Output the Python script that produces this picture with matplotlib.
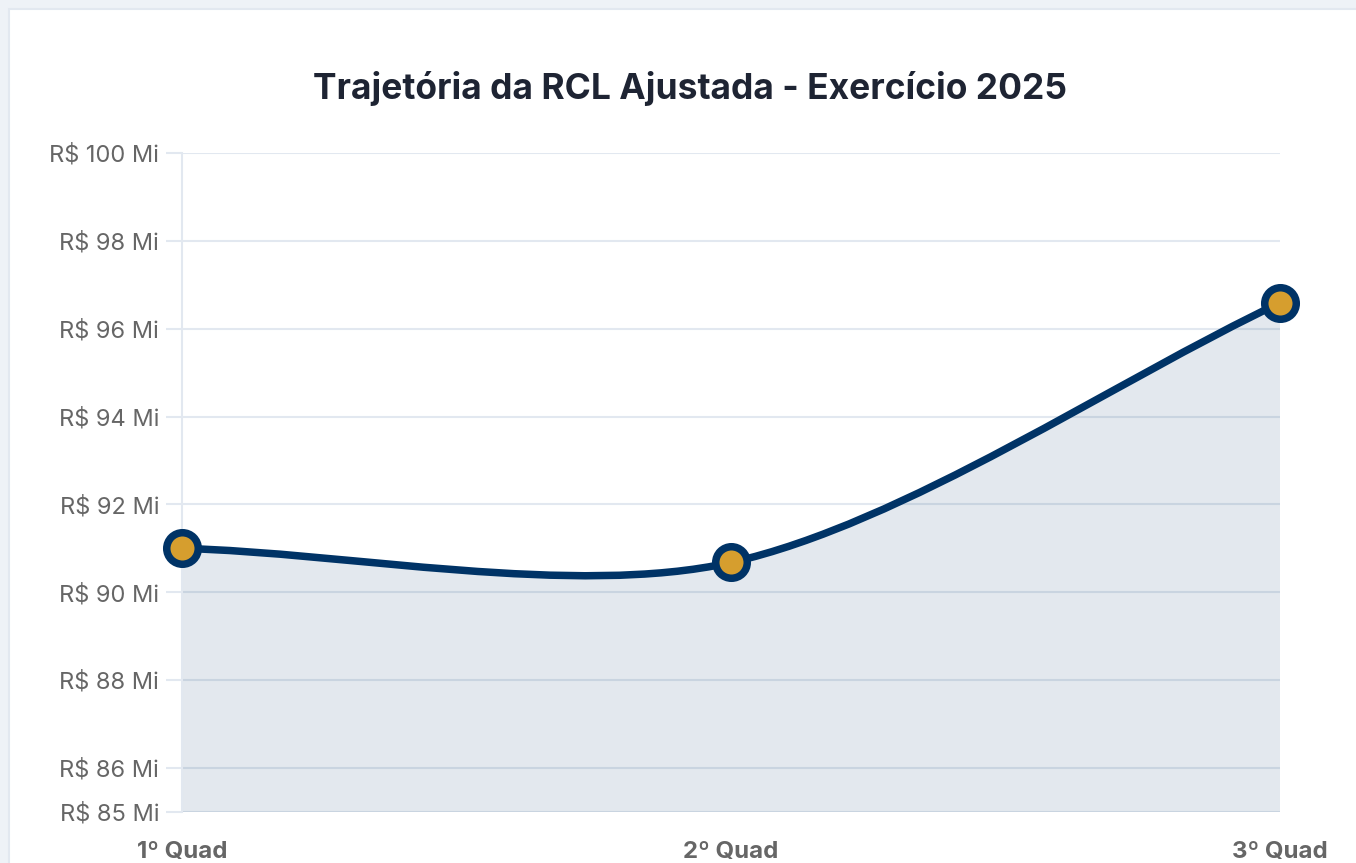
import numpy as np
import matplotlib
matplotlib.use("Agg")
import matplotlib.pyplot as plt
from matplotlib.path import Path
from matplotlib.patches import PathPatch, Rectangle
from matplotlib.transforms import Bbox, TransformedBbox

plt.rcParams['font.family'] = ['Inter', 'DejaVu Sans']

# dados
quadrimestres = ['1º Quad', '2º Quad', '3º Quad']
rcl_mi = [91.0, 90.68, 96.59]
y_ticks = [85, 86, 88, 90, 92, 94, 96, 98, 100]
y_min, y_max = 85, 100

NAVY = '#003366'
GOLD = '#D69E2E'
GRID = '#E2E8F0'

W, H = 1356, 863
fig = plt.figure(figsize=(W / 100, H / 100), dpi=100, facecolor='#EEF2F7')
# cartão branco
fig.patches.append(Rectangle((9 / W, -0.1), 2, (H - 9) / H + 0.1, transform=fig.transFigure,
                             facecolor='white', edgecolor=GRID, lw=1.5, zorder=-10))

ax_pos = [182 / W, 51 / H, (1280 - 182) / W, (812 - 153) / H]
ax = fig.add_axes(ax_pos)
ax.set_facecolor('none')

x = np.arange(len(rcl_mi), dtype=float)
ax.set_xlim(0, len(x) - 1)
ax.set_ylim(y_min, y_max)

# curva suavizada (estilo Chart.js), calculada em pixels
sx = (1280 - 182) / (len(x) - 1)
sy = (812 - 153) / (y_max - y_min)
pts = np.column_stack([x * sx, np.array(rcl_mi) * sy])
n = len(pts)
cp_prev, cp_next = [], []
t = 0.3
for i in range(n):
    prev = pts[i - 1] if i > 0 else pts[i]
    cur = pts[i]
    nxt = pts[i + 1] if i < n - 1 else pts[i]
    d01 = np.hypot(*(cur - prev))
    d12 = np.hypot(*(nxt - cur))
    s01 = d01 / (d01 + d12)
    s12 = d12 / (d01 + d12)
    cp_prev.append(cur - t * s01 * (nxt - prev))
    cp_next.append(cur + t * s12 * (nxt - prev))

verts = [pts[0]]
codes = [Path.MOVETO]
for i in range(n - 1):
    verts += [cp_next[i], cp_prev[i + 1], pts[i + 1]]
    codes += [Path.CURVE4] * 3
verts = np.array(verts) / np.array([sx, sy])

line_path = Path(verts, codes)
fill_verts = np.vstack([verts, [[x[-1], y_min], [x[0], y_min], verts[0]]])
fill_codes = codes + [Path.LINETO, Path.LINETO, Path.CLOSEPOLY]
ax.add_patch(PathPatch(Path(fill_verts, fill_codes), facecolor=NAVY, alpha=0.11,
                       edgecolor='none', zorder=1))
ax.add_patch(PathPatch(line_path, facecolor='none', edgecolor=NAVY, lw=5.4,
                       capstyle='round', zorder=2))
ax.plot(x, rcl_mi, 'o', ms=22.7, mfc=GOLD, mec=NAVY, mew=5.4, zorder=3, clip_on=False)

# grade e eixos
ax.set_yticks(y_ticks)
ax.set_yticklabels([f'R$ {v} Mi' for v in y_ticks])
ax.set_xticks(x)
ax.set_xticklabels(quadrimestres, fontweight='bold')
ax.grid(axis='y', color=GRID, lw=1.5, zorder=0.5)
ax.set_axisbelow(True)
for s in ['top', 'right', 'bottom']:
    ax.spines[s].set_visible(False)
ax.spines['left'].set_color(GRID)
ax.spines['left'].set_linewidth(1.5)
ax.tick_params(axis='y', length=11.5, width=1.5, color=GRID, pad=5,
               labelsize=17, labelcolor='#666666')
ax.tick_params(axis='x', length=0, pad=21, labelsize=17.3, labelcolor='#666666')

# rótulo do topo cortado na borda do canvas
lbl = ax.get_yticklabels()[-1]
lbl.set_clip_on(True)
lbl.set_clip_box(TransformedBbox(Bbox.from_extents(51 / W, 0, 1, 1), fig.transFigure))

fig.text(690 / W, 1 - 89 / H, 'Trajetória da RCL Ajustada - Exercício 2025',
         ha='center', va='center', fontsize=25.5, fontweight='bold', color='#1E2433')

fig.savefig('out.png', dpi=100, facecolor=fig.get_facecolor())
